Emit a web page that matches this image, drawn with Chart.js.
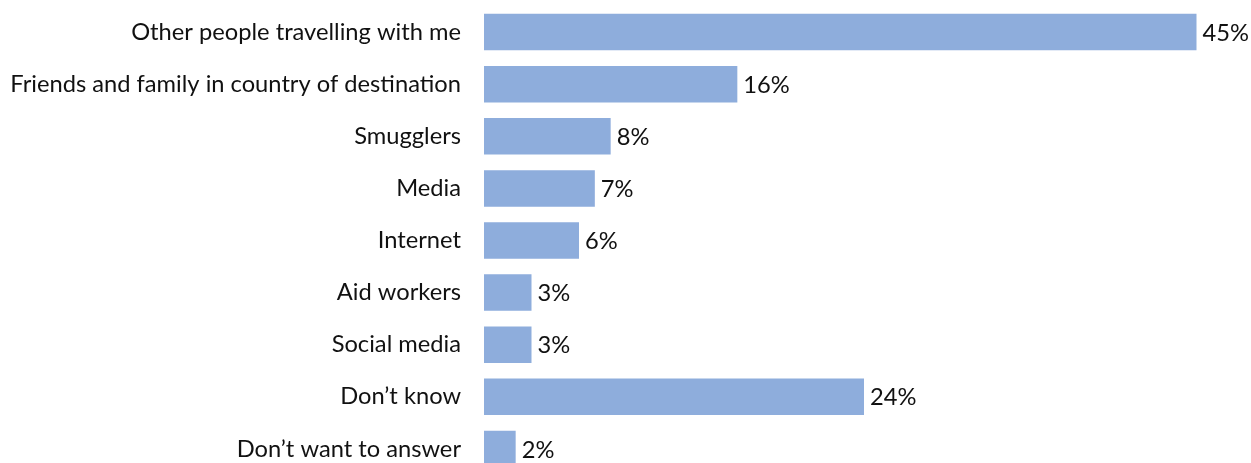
<!DOCTYPE html>
<html>
<head>
<meta charset="utf-8">
<script src="https://cdn.jsdelivr.net/npm/chart.js@4/dist/chart.umd.min.js"></script>
<style>
  html, body { margin: 0; padding: 0; background: #fff; overflow: hidden; }
  canvas { position: absolute; left: 0; top: 0; }
</style>
</head>
<body>
<canvas id="chart" width="1251" height="480"></canvas>
<script>
const categories = [
  "Other people travelling with me",
  "Friends and family in country of destination",
  "Smugglers",
  "Media",
  "Internet",
  "Aid workers",
  "Social media",
  "Don\u2019t know",
  "Don\u2019t want to answer"
];
const shares = [45, 16, 8, 7, 6, 3, 3, 24, 2];

const barColor = "#8EADDC";
const fontFamily = "Lato, 'Open Sans', sans-serif";
const fontSize = 23.7;

// draws the "45%" style labels after each bar
const valueLabels = {
  id: "valueLabels",
  afterDatasetsDraw(chart) {
    const ctx = chart.ctx;
    const meta = chart.getDatasetMeta(0);
    ctx.save();
    ctx.font = fontSize + "px " + fontFamily;
    ctx.fillStyle = "#111";
    ctx.textAlign = "left";
    ctx.textBaseline = "middle";
    meta.data.forEach((bar, i) => {
      ctx.fillText(shares[i] + "%", bar.x + 6, bar.y + 1);
    });
    ctx.restore();
  }
};

new Chart(document.getElementById("chart"), {
  type: "bar",
  data: {
    labels: categories,
    datasets: [{
      data: shares,
      backgroundColor: barColor,
      borderWidth: 0,
      barPercentage: 0.7,
      categoryPercentage: 1
    }]
  },
  options: {
    indexAxis: "y",
    responsive: false,
    animation: false,
    layout: { padding: { top: 6, bottom: 5, right: 7, left: 0 } },
    plugins: {
      legend: { display: false },
      tooltip: { enabled: false }
    },
    scales: {
      x: { display: false, min: 0, max: 48 },
      y: {
        afterFit(scale) {
          scale.width = 484;
          scale.paddingTop = 0;
          scale.paddingBottom = 0;
        },
        grid: { display: false, drawTicks: false },
        border: { display: false },
        ticks: {
          padding: 23,
          color: "#111",
          font: { family: fontFamily, size: fontSize }
        }
      }
    }
  },
  plugins: [valueLabels]
});
</script>
</body>
</html>
